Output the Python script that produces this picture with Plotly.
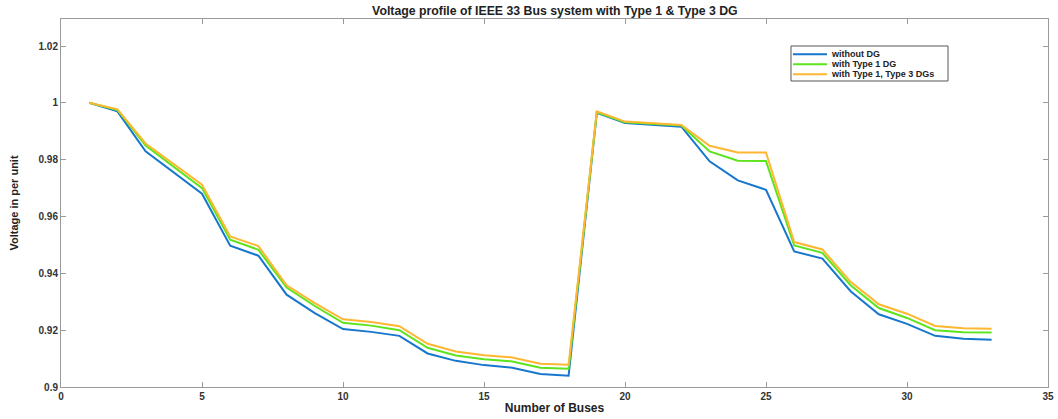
import plotly.graph_objects as go

buses = list(range(1, 34))
without_dg = [1.0, 0.997, 0.9829, 0.9755, 0.968, 0.9497, 0.9462, 0.9325, 0.926, 0.9204,
              0.9194, 0.918, 0.9118, 0.9092, 0.9077, 0.9068, 0.9046, 0.904, 0.9965, 0.9929,
              0.9922, 0.9916, 0.9794, 0.9727, 0.9694, 0.9477, 0.9452, 0.9337, 0.9256, 0.9222,
              0.918, 0.917, 0.9166]
type1_dg = [1.0, 0.9975, 0.985, 0.9775, 0.970, 0.9518, 0.9483, 0.935, 0.9285, 0.9226,
            0.9216, 0.92, 0.9138, 0.9111, 0.9098, 0.909, 0.9068, 0.9064, 0.9967, 0.9932,
            0.9926, 0.992, 0.9829, 0.9796, 0.9795, 0.9498, 0.9472, 0.9358, 0.9278, 0.9243,
            0.92, 0.9193, 0.9192]
type13_dg = [1.0, 0.9977, 0.9857, 0.9785, 0.9712, 0.953, 0.9496, 0.9358, 0.9295, 0.9238,
             0.9229, 0.9214, 0.9152, 0.9125, 0.9112, 0.9104, 0.9082, 0.9078, 0.997, 0.9934,
             0.9928, 0.9922, 0.9849, 0.9825, 0.9825, 0.951, 0.9484, 0.937, 0.9291, 0.9258,
             0.9215, 0.9207, 0.9205]

names = ["without DG", "with Type 1 DG", "with Type 1, Type 3 DGs"]
colors = ["#1677cc", "#5de41d", "#ffb630"]
x_ticks = [0, 5, 10, 15, 20, 25, 30, 35]
y_ticks = [0.9, 0.92, 0.94, 0.96, 0.98, 1.0, 1.02]
y_tick_text = ["0.9", "0.92", "0.94", "0.96", "0.98", "1", "1.02"]

font_family = "Liberation Sans, Arial, sans-serif"

fig = go.Figure()
for name, vals, col in zip(names, [without_dg, type1_dg, type13_dg], colors):
    fig.add_trace(go.Scatter(x=buses, y=vals, mode="lines", name=name,
                             line=dict(color=col, width=2), showlegend=False))

axis_common = dict(showline=True, linecolor="#9a9a9a", linewidth=1, mirror="ticks",
                   ticks="inside", ticklen=5, tickcolor="#9a9a9a", showgrid=False,
                   zeroline=False, automargin=False,
                   tickfont=dict(family=font_family, size=10, color="#333333"))

# manual MATLAB-style legend (compact box)
leg_x0, leg_x1, leg_top, leg_bot = 0.7396, 0.8987, 0.9266, 0.8315
line_x0, line_x1, text_x = 0.7416, 0.7761, 0.7781
rows_y = [0.9041, 0.8769, 0.8497]
shapes = [dict(type="rect", xref="paper", yref="paper", x0=leg_x0, x1=leg_x1,
               y0=leg_bot, y1=leg_top, line=dict(color="#555555", width=1),
               fillcolor="white", layer="above")]
annotations = []
for name, col, ry in zip(names, colors, rows_y):
    shapes.append(dict(type="line", xref="paper", yref="paper", x0=line_x0, x1=line_x1,
                       y0=ry, y1=ry, line=dict(color=col, width=2), layer="above"))
    annotations.append(dict(xref="paper", yref="paper", x=text_x, y=ry, xanchor="left",
                            yanchor="middle", showarrow=False, text="<b>%s</b>" % name,
                            font=dict(family=font_family, size=9, color="#222222")))

fig.update_layout(
    width=1058, height=419,
    paper_bgcolor="white", plot_bgcolor="white",
    margin=dict(l=61, r=10, t=19, b=32),
    title=dict(text="<b>Voltage profile of IEEE 33 Bus system with Type 1 & Type 3 DG</b>",
               x=0.5245, xanchor="center", y=0.974, yanchor="middle",
               font=dict(family=font_family, size=12.3, color="#222222")),
    xaxis=dict(range=[0, 35], tickvals=x_ticks,
               ticktext=["<b>%d</b>" % v for v in x_ticks],
               title=dict(text="<b>Number of Buses</b>", standoff=2,
                          font=dict(family=font_family, size=12, color="#222222")),
               **axis_common),
    yaxis=dict(range=[0.9, 1.0295], tickvals=y_ticks,
               ticktext=["<b>%s</b>" % t for t in y_tick_text],
               title=dict(text="<b>Voltage in per unit</b>", standoff=17,
                          font=dict(family=font_family, size=11, color="#222222")),
               **axis_common),
    shapes=shapes,
    annotations=annotations,
    showlegend=False,
)

fig.write_html("out.html", config={"displayModeBar": False},
               post_script="document.body.style.margin='0';document.body.style.overflow='hidden';")
